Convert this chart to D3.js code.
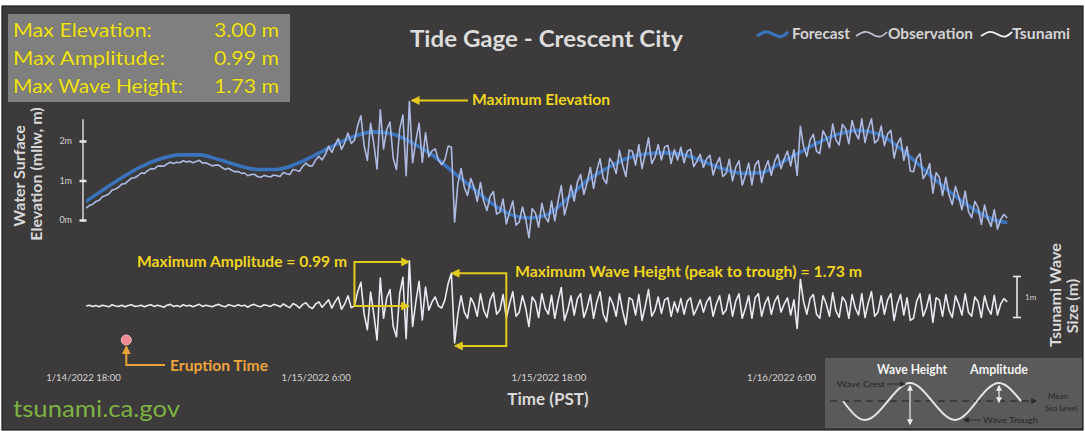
<!DOCTYPE html>
<html>
<head>
<meta charset="utf-8">
<script src="https://cdn.jsdelivr.net/npm/d3@7"></script>
<style>
body { margin: 0; background: #fff; }
svg { display: block; }
text { font-family: Lato, "Open Sans", sans-serif; }
</style>
</head>
<body>
<div id="chart"></div>
<script>
// ---- data ----
// observation + tsunami residual: one value every 10 minutes from 1/14/2022 18:10 PST
var sampleStart = new Date(2022, 0, 14, 18, 10);
var sampleStepMinutes = 10;

// forecast tide (m, mllw), hourly from 1/14/2022 18:00
var forecastStart = new Date(2022, 0, 14, 18, 0);
var forecastHourly = [0.42,0.75,1.07,1.35,1.55,1.65,1.65,1.53,1.38,1.28,
  1.28,1.42,1.65,1.90,2.12,2.23,2.17,1.95,1.65,1.25,
  0.85,0.45,0.15,0.05,0.15,0.55,1.00,1.30,1.55,1.67,
  1.70,1.65,1.48,1.30,1.18,1.20,1.45,1.72,1.98,2.18,
  2.27,2.18,1.87,1.45,1.00,0.60,0.25,0.00,-0.08];

// observed water level (m, mllw)
var observation = [0.30,0.37,0.40,0.47,0.50,0.59,0.62,0.66,0.76,0.78,0.83,0.91,0.92,0.99,1.06,1.07,1.12,1.19,1.18,1.25,
  1.30,1.29,1.36,1.37,1.36,1.42,1.46,1.43,1.46,1.45,1.50,1.47,1.49,1.45,1.48,1.51,1.44,1.45,1.41,1.37,
  1.39,1.39,1.33,1.28,1.31,1.26,1.22,1.23,1.18,1.19,1.12,1.15,1.16,1.10,1.08,1.13,1.11,1.09,1.14,1.12,
  1.10,1.20,1.17,1.15,1.28,1.26,1.23,1.36,1.44,1.37,1.37,1.52,1.61,1.52,1.66,
  1.87,1.71,1.90,2.06,1.79,1.96,2.20,1.94,
  2.02,2.39,2.64,1.88,1.51,2.45,1.93,1.29,2.79,1.80,2.29,2.48,1.57,1.28,2.30,2.66,1.12,3.00,1.45,2.00,
  2.45,1.46,2.21,1.60,1.75,1.80,1.52,1.40,1.53,1.87,1.85,-0.05,0.92,
  1.30,0.83,0.62,1.05,0.83,0.47,0.95,0.48,0.24,0.60,
  0.72,0.15,0.20,0.53,-0.10,0.20,0.48,-0.13,-0.05,0.33,
  0.02,-0.45,0.29,0.18,-0.18,0.42,0.08,-0.05,0.48,-0.02,
  0.47,0.87,0.13,0.45,0.88,0.48,0.96,1.15,0.65,0.95,
  1.33,0.80,1.25,1.55,1.05,0.92,1.56,1.43,1.18,1.77,
  1.39,1.10,1.77,1.74,1.39,1.91,1.30,1.67,2.08,1.43,
  1.59,1.91,1.52,1.85,1.89,1.43,1.78,1.52,1.84,1.45,
  1.74,1.79,1.35,1.49,1.66,1.33,1.55,1.64,1.14,1.41,
  1.58,1.10,1.18,1.54,0.99,1.34,1.50,0.88,1.13,1.44,
  0.89,1.39,1.50,0.95,1.29,1.50,1.13,1.47,1.66,1.30,
  1.55,1.74,1.37,1.78,1.13,2.37,1.86,1.61,2.03,2.17,
  1.74,1.68,2.26,2.10,1.83,2.43,2.03,1.90,2.42,2.31,
  1.93,2.52,2.21,2.05,2.56,1.96,2.31,2.56,1.95,2.03,
  2.38,1.88,2.18,2.27,1.57,1.92,2.08,1.51,1.86,1.24,
  1.22,1.57,1.68,1.05,1.18,1.43,0.68,1.20,1.08,0.62,
  1.08,0.63,0.39,0.85,0.59,0.26,0.73,0.22,0.06,0.47,
  0.31,-0.11,0.38,0.03,-0.16,0.26,-0.23,0.02,0.14,0.05];

// tsunami wave size (m), observation minus tide
var tsunami = [0.00,0.02,-0.01,0.01,-0.02,0.02,0.00,-0.02,0.03,0.00,-0.01,0.02,-0.02,0.01,0.03,-0.01,0.00,0.02,-0.02,0.01,
  0.03,-0.01,0.02,0.00,-0.03,0.02,0.04,-0.01,0.01,-0.02,0.03,0.00,0.02,-0.02,0.01,0.04,-0.01,0.02,0.00,-0.02,
  0.02,0.04,0.00,-0.02,0.03,0.01,-0.01,0.03,0.00,0.02,-0.03,0.02,0.04,0.00,-0.02,0.03,0.01,-0.01,0.04,0.02,
  -0.02,0.05,0.00,-0.04,0.06,0.02,-0.05,0.04,0.08,-0.02,-0.06,0.05,0.10,-0.03,0.06,
  0.15,-0.05,0.10,0.22,-0.08,0.05,0.25,-0.04,
  0.00,0.35,0.58,-0.20,-0.58,0.34,-0.20,-0.83,0.68,-0.30,0.20,0.40,-0.50,-0.75,0.30,0.70,-0.80,1.10,-0.50,0.10,
  0.60,-0.34,0.46,-0.10,0.10,0.22,0.00,-0.05,0.15,0.55,0.80,-0.90,-0.20,
  0.25,-0.15,-0.30,0.20,0.05,-0.25,0.30,-0.10,-0.28,0.15,
  0.32,-0.20,-0.10,0.28,-0.30,0.05,0.35,-0.25,-0.15,0.25,
  -0.05,-0.50,0.22,0.10,-0.28,0.30,-0.05,-0.20,0.26,-0.30,
  0.12,0.45,-0.35,-0.10,0.25,-0.22,0.18,0.30,-0.28,-0.05,
  0.28,-0.30,0.10,0.35,-0.20,-0.38,0.22,0.05,-0.25,0.30,
  -0.12,-0.45,0.20,0.15,-0.22,0.28,-0.35,0.00,0.40,-0.25,
  -0.10,0.22,-0.18,0.15,0.20,-0.25,0.10,-0.15,0.18,-0.20,
  0.12,0.20,-0.22,-0.05,0.15,-0.15,0.10,0.22,-0.25,0.05,
  0.25,-0.20,-0.10,0.28,-0.25,0.12,0.30,-0.30,-0.05,0.25,
  -0.30,0.20,0.30,-0.25,0.05,0.22,-0.20,0.10,0.25,-0.15,
  0.05,0.20,-0.22,0.15,-0.55,0.65,0.10,-0.20,0.18,0.28,
  -0.20,-0.30,0.25,0.05,-0.25,0.32,-0.12,-0.28,0.22,0.10,
  -0.30,0.28,-0.05,-0.22,0.30,-0.28,0.08,0.35,-0.25,-0.15,
  0.25,-0.20,0.15,0.30,-0.35,0.05,0.28,-0.22,0.20,-0.35,
  -0.30,0.12,0.30,-0.25,-0.05,0.28,-0.40,0.20,0.15,-0.25,
  0.28,-0.10,-0.28,0.25,0.05,-0.22,0.30,-0.15,-0.25,0.22,
  0.10,-0.28,0.25,-0.05,-0.20,0.26,-0.22,0.05,0.18,0.10];

var tickDates = [new Date(2022,0,14,18), new Date(2022,0,15,6), new Date(2022,0,15,18), new Date(2022,0,16,6)];
var elevationTicks = [0, 1, 2];
var eruptionTime = new Date(2022, 0, 14, 20, 14);
var summaryLabels = ["Max Elevation:", "Max Amplitude:", "Max Wave Height:"];
var summaryValues = [3.00, 0.99, 1.73];
var legendNames = ["Forecast", "Observation", "Tsunami"];
var scaleBarMeters = 1;

// ---- setup ----
var W = 1085, H = 431;
var svg = d3.select("#chart").append("svg").attr("width", W).attr("height", H);

var defs = svg.append("defs");
function marker(id, color, size) {
    defs.append("marker")
        .attr("id", id)
        .attr("viewBox", "0 0 10 10")
        .attr("refX", 8).attr("refY", 5)
        .attr("markerWidth", size).attr("markerHeight", size)
        .attr("markerUnits", "userSpaceOnUse")
        .attr("orient", "auto-start-reverse")
        .append("path").attr("d", "M0,0 L10,5 L0,10 z").attr("fill", color);
}
marker("arrowYellow", "#e2cb1c", 9);
marker("arrowOrange", "#e9a23a", 9);
marker("arrowWhite", "#ececec", 6);
marker("arrowDark", "#2b2b2b", 6);

function fit(sel, w) {
    return sel.attr("textLength", w).attr("lengthAdjust", "spacingAndGlyphs");
}

// panel background
svg.append("rect").attr("x", 2).attr("y", 6).attr("width", 1081).attr("height", 424)
    .attr("fill", "#3c3a3a").attr("stroke", "#1c1c1c").attr("stroke-width", 1.2);

var x = d3.scaleTime().domain([tickDates[0], tickDates[3]]).range([83, 781]);
var yTop = d3.scaleLinear().domain([0, 2]).range([220, 141]);
var ySmall = d3.scaleLinear().domain([0, 1]).range([306, 265]);

function sampleTime(i) { return d3.timeMinute.offset(sampleStart, i * sampleStepMinutes); }

var obsData = observation.map(function(v, i){ return {t: sampleTime(i), v: v}; });
var tsuData = tsunami.map(function(v, i){ return {t: sampleTime(i), v: v}; });
var fcData = forecastHourly.map(function(v, i){ return {t: d3.timeHour.offset(forecastStart, i), v: v}; });

var x0 = x(sampleTime(0)), x1 = x(sampleTime(observation.length - 1));
defs.append("clipPath").attr("id", "plotClip")
    .append("rect").attr("x", x0).attr("y", 0).attr("width", x1 - x0).attr("height", H);

// ---- upper panel: water surface elevation ----
var topLine = d3.line().x(function(d){ return x(d.t); }).y(function(d){ return yTop(d.v); });

svg.append("path").datum(fcData)
    .attr("clip-path", "url(#plotClip)")
    .attr("d", topLine.curve(d3.curveMonotoneX))
    .attr("fill", "none").attr("stroke", "#3a73bb").attr("stroke-width", 3.6);

svg.append("path").datum(obsData)
    .attr("d", topLine.curve(d3.curveLinear))
    .attr("fill", "none").attr("stroke", "#adbbe4").attr("stroke-width", 1.6)
    .attr("stroke-linejoin", "round");

// left axis
svg.append("line").attr("x1", 83).attr("x2", 83)
    .attr("y1", yTop(2.55)).attr("y2", yTop(-0.03))
    .attr("stroke", "#d9d9d9").attr("stroke-width", 1.5);
var gy = svg.append("g").attr("transform", "translate(83,0)")
    .call(d3.axisLeft(yTop).tickValues(elevationTicks).tickFormat(function(d){ return d + "m"; })
        .tickSize(0).tickPadding(11));
gy.select(".domain").remove();
gy.selectAll(".tick").append("line").attr("x1", -3.5).attr("x2", 3.5)
    .attr("stroke", "#e6e6e6").attr("stroke-width", 2.5);
gy.selectAll("text").attr("fill", "#cfcfcf").style("font-size", "9px").style("font-family", "Lato, sans-serif");

svg.append("text").attr("transform", "translate(25,176) rotate(-90)")
    .attr("text-anchor", "middle").attr("fill", "#d9d9d9")
    .style("font-size", "16px").style("font-weight", "bold").text("Water Surface");
svg.append("text").attr("transform", "translate(42,174) rotate(-90)")
    .attr("text-anchor", "middle").attr("fill", "#d9d9d9")
    .style("font-size", "16px").style("font-weight", "bold").text("Elevation (mllw, m)");

// ---- lower panel: tsunami ----
svg.append("path").datum(tsuData)
    .attr("d", d3.line().x(function(d){ return x(d.t); }).y(function(d){ return ySmall(d.v); }))
    .attr("fill", "none").attr("stroke", "#e9ebf3").attr("stroke-width", 1.6)
    .attr("stroke-linejoin", "round");

// 1 m scale bar
var barTop = ySmall(0.72), barBot = ySmall(0.72 - scaleBarMeters);
var bar = svg.append("g").attr("stroke", "#e8e8e8").attr("stroke-width", 1.6);
bar.append("line").attr("x1", 1017).attr("x2", 1017).attr("y1", barTop).attr("y2", barBot);
bar.append("line").attr("x1", 1013).attr("x2", 1021).attr("y1", barTop).attr("y2", barTop);
bar.append("line").attr("x1", 1013).attr("x2", 1021).attr("y1", barBot).attr("y2", barBot);
svg.append("text").attr("x", 1025).attr("y", (barTop + barBot) / 2 + 3)
    .attr("fill", "#d0d0d0").style("font-size", "8px").text(scaleBarMeters + "m");

fit(svg.append("text").attr("transform", "translate(1061,295) rotate(-90)")
    .attr("text-anchor", "middle").attr("fill", "#d9d9d9")
    .style("font-size", "16px").style("font-weight", "bold").text("Tsunami Wave"), 104);
svg.append("text").attr("transform", "translate(1078,306) rotate(-90)")
    .attr("text-anchor", "middle").attr("fill", "#d9d9d9")
    .style("font-size", "16px").style("font-weight", "bold").text("Size (m)");

// ---- time axis ----
var gx = svg.append("g").attr("transform", "translate(0,374)")
    .call(d3.axisBottom(x).tickValues(tickDates).tickFormat(d3.timeFormat("%-m/%-d/%Y %-H:%M"))
        .tickSize(0).tickPadding(0));
gx.select(".domain").remove();
gx.selectAll("text").attr("fill", "#d6d6d6").style("font-size", "9.6px").style("font-family", "Lato, sans-serif");

svg.append("text").attr("x", 548).attr("y", 405).attr("text-anchor", "middle")
    .attr("fill", "#d9d9d9").style("font-size", "17px").style("font-weight", "bold").text("Time (PST)");

// ---- title + legend ----
fit(svg.append("text").attr("x", 410).attr("y", 47).attr("fill", "#dcdcdc")
    .style("font-size", "22px").style("font-weight", "bold").text("Tide Gage - Crescent City"), 273);

var legendColors = ["#3a73bb", "#c3c9da", "#f2f2f2"];
var legendWidths = [3.2, 1.6, 1.8];
var legendSampleX = [757, 856, 981];
var legendTextX = [792, 888, 1012];
var legendTextW = [58, 85, 58];
var tilde = d3.line().curve(d3.curveBasis);
legendNames.forEach(function(name, i) {
    var sx = legendSampleX[i], w = 31, sy = 34;
    svg.append("path")
        .attr("d", tilde([[sx, sy + 2], [sx + w * 0.3, sy - 4], [sx + w * 0.55, sy + 1], [sx + w * 0.8, sy + 4], [sx + w, sy - 2]]))
        .attr("fill", "none").attr("stroke", legendColors[i]).attr("stroke-width", legendWidths[i]);
    fit(svg.append("text").attr("x", legendTextX[i]).attr("y", 39).attr("fill", "#d4d4d4")
        .style("font-size", "14.5px").style("font-weight", "bold").text(name), legendTextW[i]);
});

// ---- summary box ----
svg.append("rect").attr("x", 8).attr("y", 14).attr("width", 282).attr("height", 88).attr("fill", "#7f7f7f");
var labelW = [139, 152, 170];
summaryLabels.forEach(function(lab, i) {
    var by = 37 + i * 28;
    fit(svg.append("text").attr("x", 13).attr("y", by).attr("fill", "#f2e41c")
        .attr("stroke", "#5e5a20").attr("stroke-width", 0.4).attr("paint-order", "stroke")
        .style("font-size", "19px").text(lab), labelW[i]);
    fit(svg.append("text").attr("x", 279).attr("y", by).attr("text-anchor", "end").attr("fill", "#f2e41c")
        .attr("stroke", "#5e5a20").attr("stroke-width", 0.4).attr("paint-order", "stroke")
        .style("font-size", "19px").text(d3.format(".2f")(summaryValues[i]) + " m"), 65);
});

// ---- annotations ----
var yellow = "#f0d61e", yellowLine = "#e2cb1c";

// maximum elevation
var iMax = d3.maxIndex(observation);
svg.append("line").attr("x1", 468).attr("x2", x(sampleTime(iMax)) + 3)
    .attr("y1", yTop(observation[iMax]) - 1).attr("y2", yTop(observation[iMax]) - 1)
    .attr("stroke", yellowLine).attr("stroke-width", 2).attr("marker-end", "url(#arrowYellow)");
fit(svg.append("text").attr("x", 472).attr("y", 105).attr("fill", yellow)
    .style("font-size", "15px").style("font-weight", "bold").text("Maximum Elevation"), 138);

// maximum amplitude bracket
var iAmp = d3.maxIndex(tsunami);
var ampLeft = x(sampleTime(iAmp - 17)), ampRight = x(sampleTime(iAmp)) - 1;
svg.append("path")
    .attr("d", "M" + ampRight + "," + (ySmall(tsunami[iAmp]) + 1) + "H" + ampLeft + "V" + ySmall(0) + "H" + ampRight)
    .attr("fill", "none").attr("stroke", yellowLine).attr("stroke-width", 2)
    .attr("marker-start", "url(#arrowYellow)").attr("marker-end", "url(#arrowYellow)");
fit(svg.append("text").attr("x", 137).attr("y", 267).attr("fill", yellow)
    .style("font-size", "15px").style("font-weight", "bold")
    .text("Maximum Amplitude = " + d3.format(".2f")(summaryValues[1]) + " m"), 210);

// maximum wave height bracket (peak to trough)
var iTrough = d3.minIndex(tsunami), iPeak = iTrough - 1;
var whLeftTop = x(sampleTime(iPeak)) + 1, whLeftBot = x(sampleTime(iTrough)) + 1, whRight = x(sampleTime(iTrough + 16));
svg.append("path")
    .attr("d", "M" + whLeftTop + "," + ySmall(tsunami[iPeak]) + "H" + whRight + "V" + (ySmall(tsunami[iTrough]) + 3) + "H" + whLeftBot)
    .attr("fill", "none").attr("stroke", yellowLine).attr("stroke-width", 2)
    .attr("marker-start", "url(#arrowYellow)").attr("marker-end", "url(#arrowYellow)");
fit(svg.append("text").attr("x", 515).attr("y", 277).attr("fill", yellow)
    .style("font-size", "15px").style("font-weight", "bold")
    .text("Maximum Wave Height (peak to trough) = " + d3.format(".2f")(summaryValues[2]) + " m"), 347);

// eruption time
var xe = x(eruptionTime);
svg.append("path").attr("d", "M165,365H" + xe + "V347")
    .attr("fill", "none").attr("stroke", "#e9a23a").attr("stroke-width", 2)
    .attr("marker-end", "url(#arrowOrange)");
svg.append("circle").attr("cx", xe).attr("cy", 340).attr("r", 5)
    .attr("fill", "#f08a95").attr("stroke", "#f6b9bd").attr("stroke-width", 1);
fit(svg.append("text").attr("x", 170).attr("y", 371).attr("fill", "#eca43a")
    .style("font-size", "15px").style("font-weight", "bold").text("Eruption Time"), 98);

fit(svg.append("text").attr("x", 13).attr("y", 417).attr("fill", "#7cb342")
    .style("font-size", "23px").text("tsunami.ca.gov"), 167);

// ---- wave explainer inset ----
var inset = svg.append("g");
inset.append("rect").attr("x", 825).attr("y", 358).attr("width", 257).attr("height", 70).attr("fill", "#5a5a5a");
inset.append("line").attr("x1", 830).attr("x2", 1036).attr("y1", 401).attr("y2", 401)
    .attr("stroke", "#333").attr("stroke-width", 1.3).attr("stroke-dasharray", "7,5")
    .attr("marker-end", "url(#arrowDark)");
var wavePts = [[843,401],[865,420],[888,401],[910,383],[932,401],[955,420],[977,401],[999,383],[1021,401]];
inset.append("path").attr("d", d3.line().curve(d3.curveNatural)(wavePts))
    .attr("fill", "none").attr("stroke", "#e4e4e4").attr("stroke-width", 2);
inset.append("line").attr("x1", 910).attr("x2", 910).attr("y1", 386).attr("y2", 424)
    .attr("stroke", "#ececec").attr("stroke-width", 1.2)
    .attr("marker-start", "url(#arrowWhite)").attr("marker-end", "url(#arrowWhite)");
inset.append("line").attr("x1", 999).attr("x2", 999).attr("y1", 386).attr("y2", 402)
    .attr("stroke", "#ececec").attr("stroke-width", 1.2)
    .attr("marker-start", "url(#arrowWhite)").attr("marker-end", "url(#arrowWhite)");
inset.append("line").attr("x1", 887).attr("x2", 905).attr("y1", 384).attr("y2", 384)
    .attr("stroke", "#2b2b2b").attr("stroke-width", 1).attr("marker-end", "url(#arrowDark)");
inset.append("line").attr("x1", 981).attr("x2", 964).attr("y1", 420).attr("y2", 420)
    .attr("stroke", "#2b2b2b").attr("stroke-width", 1).attr("marker-end", "url(#arrowDark)");
fit(inset.append("text").attr("x", 877).attr("y", 374).attr("fill", "#f4f4f4")
    .style("font-size", "13px").style("font-weight", "bold").text("Wave Height"), 70);
fit(inset.append("text").attr("x", 970).attr("y", 374).attr("fill", "#f4f4f4")
    .style("font-size", "13px").style("font-weight", "bold").text("Amplitude"), 58);
var dark = "#262626";
fit(inset.append("text").attr("x", 837).attr("y", 387).attr("fill", dark).style("font-size", "8px").text("Wave Crest"), 48);
fit(inset.append("text").attr("x", 983).attr("y", 423).attr("fill", dark).style("font-size", "8px").text("Wave Trough"), 55);
inset.append("text").attr("x", 1058).attr("y", 399).attr("text-anchor", "middle").attr("fill", dark).style("font-size", "8px").text("Mean");
inset.append("text").attr("x", 1061).attr("y", 411).attr("text-anchor", "middle").attr("fill", dark).style("font-size", "8px").text("Sea Level");
</script>
</body>
</html>
